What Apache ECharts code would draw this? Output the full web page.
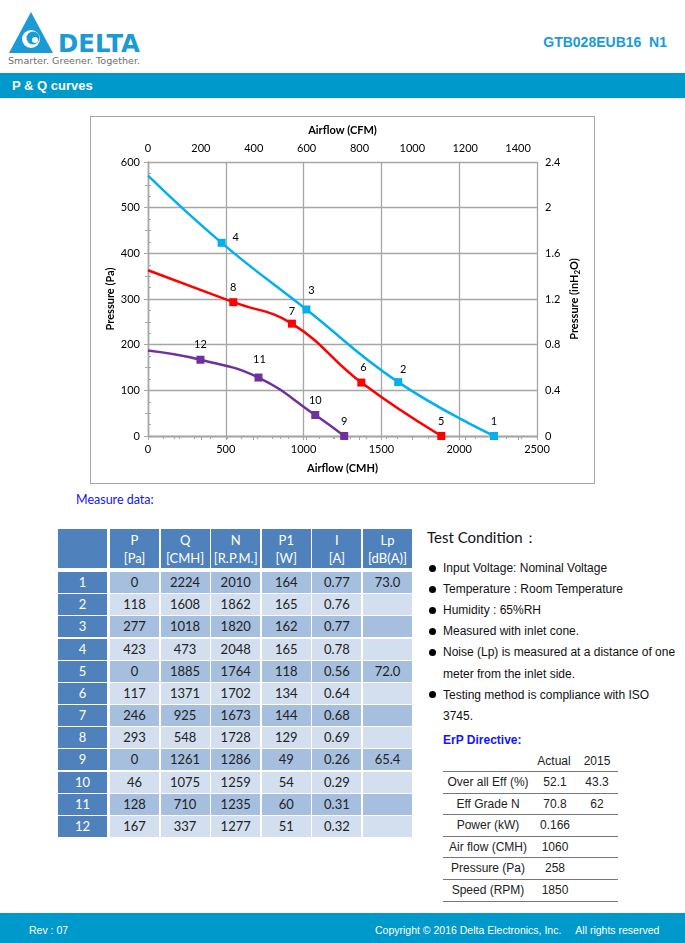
<!DOCTYPE html>
<html><head><meta charset="utf-8">
<script src="https://cdn.jsdelivr.net/npm/echarts@6/dist/echarts.min.js"></script>
<style>
html,body{margin:0;padding:0;background:#fff;}
body{width:685px;height:943px;position:relative;overflow:hidden;font-family:"Liberation Sans",Arial,sans-serif;}
.a{position:absolute;white-space:pre;}
.cell{position:absolute;text-align:center;font-family:Lato,sans-serif;font-size:13px;box-sizing:border-box;}
.bul{position:absolute;width:7px;height:7px;border-radius:50%;background:#000;}
.tc{position:absolute;font-size:12px;color:#111;white-space:pre;line-height:16px;}
.erp{position:absolute;font-size:12px;color:#222;text-align:center;line-height:16px;white-space:pre;}
.erpline{position:absolute;left:443px;width:175px;height:1px;background:#777;}
</style></head><body>

<svg class="a" style="left:0;top:0" width="160" height="70">
  <polygon points="9,53 31,12 53,53" fill="#1A9AD6"/>
  <circle cx="31" cy="39" r="9" fill="#fff"/>
  <circle cx="33" cy="38" r="6.5" fill="#1A9AD6"/>
  <circle cx="35" cy="40" r="3" fill="#fff"/>
  <text x="58" y="52" font-family="DejaVu Sans" font-weight="bold" font-size="25" fill="#1A9AD6" textLength="82" lengthAdjust="spacingAndGlyphs">DELTA</text>
  <text x="8" y="64" font-family="DejaVu Sans" font-size="9" fill="#707070" textLength="132" lengthAdjust="spacingAndGlyphs">Smarter.  Greener.  Together.</text>
</svg>
<div class="a" style="right:18px;top:34px;font-weight:bold;font-size:14px;color:#1B9AD7;line-height:16px;">GTB028EUB16  N1</div>
<div class="a" style="left:0;top:73px;width:685px;height:25px;background:#0099CC;"></div>
<div class="a" style="left:12px;top:78px;font-weight:bold;font-size:13px;color:#fff;line-height:16px;">P &amp; Q curves</div>

<div id="chart" class="a" style="left:90px;top:116px;width:505px;height:368px;border:1px solid #a6a6a6;box-sizing:border-box;"></div>

<div class="a" style="left:76px;top:492px;font-family:Lato,sans-serif;font-size:12.5px;color:#1515F5;line-height:16px;">Measure data:</div>
<div id="table"></div>

<div class="a" style="left:427px;top:528px;font-family:Lato,sans-serif;font-size:15px;color:#111;line-height:18px;">Test Condition：</div>
<div id="cond"></div>
<div class="a" style="left:443px;top:732px;font-weight:bold;font-size:12px;color:#1515F5;line-height:16px;">ErP Directive:</div>
<div id="erp"></div>

<div class="a" style="left:0;top:913px;width:685px;height:30px;background:#0099CC;"></div>
<div class="a" style="left:29px;top:923px;font-size:10.5px;color:#fff;line-height:14px;">Rev : 07</div>
<div class="a" style="left:375px;top:923px;font-size:10.5px;color:#fff;line-height:14px;">Copyright © 2016 Delta Electronics, Inc.     All rights reserved</div>

<script>
// ---- Data ----
const pointIds = [1,2,3,4,5,6,7,8,9,10,11,12];
const tableP  = [0,118,277,423,0,117,246,293,0,46,128,167];
const tableQ  = [2224,1608,1018,473,1885,1371,925,548,1261,1075,710,337];
const tableN  = [2010,1862,1820,2048,1764,1702,1673,1728,1286,1259,1235,1277];
const tableP1 = [164,165,162,165,118,134,144,129,49,54,60,51];
const tableI  = ['0.77','0.76','0.77','0.78','0.56','0.64','0.68','0.69','0.26','0.29','0.31','0.32'];
const tableLp = ['73.0','','','','72.0','','','','65.4','','',''];
const headTop = ['P','Q','N','P1','I','Lp'];
const headBottom = ['[Pa]','[CMH]','[R.P.M.]','[W]','[A]','[dB(A)]'];

const blueIds = [4,3,2,1];
const redIds = [8,7,6,5];
const purpleIds = [12,11,10,9];
const curveStartP = [570, 363, 187]; // curve value at Q = 0 (blue, red, purple)

const cmhTicks = [0,500,1000,1500,2000,2500];
const cfmTickStep = 200;
const paTickStep = 100;
const inTickStep = 0.4;
const CMH_PER_CFM = 1.699;
const PA_PER_INH2O = 250;

const conditions = [
  ['Input Voltage: Nominal Voltage'],
  ['Temperature : Room Temperature'],
  ['Humidity : 65%RH'],
  ['Measured with inlet cone.'],
  ['Noise (Lp) is measured at a distance of one','meter from the inlet side.'],
  ['Testing method is compliance with ISO','3745.']
];
const erpLabels = ['Over all Eff (%)','Eff Grade N','Power (kW)','Air flow (CMH)','Pressure (Pa)','Speed (RPM)'];
const erpActual = ['52.1','70.8','0.166','1060','258','1850'];
const erp2015 = ['43.3','62','','','',''];

// ---- Measure table ----
(function(){
  const t = document.getElementById('table');
  let h = '';
  const colX = i => 110 + i*50.6;
  const headBg = '#4F81BD';
  h += `<div class="cell" style="left:58px;top:529px;width:49px;height:39px;background:${headBg}"></div>`;
  for (let c=0;c<6;c++){
    h += `<div class="cell" style="left:${colX(c)}px;top:529px;width:49px;height:39px;background:${headBg};color:#fff;line-height:18px;padding-top:2px">${headTop[c]}<br>${headBottom[c]}</div>`;
  }
  const cols = [tableP,tableQ,tableN,tableP1,tableI,tableLp];
  for (let r=0;r<12;r++){
    const top = 572 + r*22.17;
    const bg = r%2===0 ? '#A7BFDE' : '#D3DFEE';
    h += `<div class="cell" style="left:58px;top:${top}px;width:49px;height:21px;background:${headBg};color:#fff;line-height:21px">${pointIds[r]}</div>`;
    for (let c=0;c<6;c++){
      h += `<div class="cell" style="left:${colX(c)}px;top:${top}px;width:49px;height:21px;background:${bg};color:#222;line-height:21px">${cols[c][r]}</div>`;
    }
  }
  t.innerHTML = h;
})();

// ---- Test conditions ----
(function(){
  const el = document.getElementById('cond');
  let h = '', line = 0;
  conditions.forEach(item => {
    item.forEach((txt, k) => {
      const cy = 568 + line*21.1;
      if (k===0) h += `<div class="bul" style="left:429px;top:${cy-3.5}px"></div>`;
      h += `<div class="tc" style="left:443px;top:${cy-8}px">${txt}</div>`;
      line++;
    });
  });
  el.innerHTML = h;
})();

// ---- ErP table ----
(function(){
  const el = document.getElementById('erp');
  let h = '';
  h += `<div class="erp" style="left:528px;width:52px;top:753px">Actual</div>`;
  h += `<div class="erp" style="left:577px;width:40px;top:753px">2015</div>`;
  h += `<div class="erpline" style="top:771px"></div>`;
  for (let r=0;r<6;r++){
    const cy = 782 + r*21.6;
    h += `<div class="erp" style="left:443px;width:90px;top:${cy-8}px">${erpLabels[r]}</div>`;
    h += `<div class="erp" style="left:530px;width:50px;top:${cy-8}px">${erpActual[r]}</div>`;
    h += `<div class="erp" style="left:577px;width:40px;top:${cy-8}px">${erp2015[r]}</div>`;
    h += `<div class="erpline" style="top:${Math.round(cy+10.5)}px"></div>`;
  }
  el.innerHTML = h;
})();

// ---- Chart ----
const labelOffsets = {1:[0,-15],2:[5,-13],3:[5,-19],4:[14,-5],5:[0,-15],6:[2,-15],7:[0,-12],8:[0,-15],9:[0,-15],10:[0,-15],11:[1,-18],12:[0,-15]};
const FONT = 'Lato';
const gridColor = '#a6a6a6';

function buildSeries(ids, startP, color){
  const data = [{value:[0,startP], symbol:'none', label:{show:false}}];
  ids.forEach(id => {
    const i = pointIds.indexOf(id);
    data.push({value:[tableQ[i], tableP[i]],
      label:{show:true, formatter:String(id), position:'inside', offset:labelOffsets[id]}});
  });
  return {type:'line', xAxisIndex:0, yAxisIndex:0, smooth:0.45, data,
    symbol:'rect', symbolSize:8, showAllSymbol:true,
    lineStyle:{color, width:2.5}, itemStyle:{color},
    label:{color:'#000', fontSize:11, fontFamily:FONT},
    emphasis:{disabled:true}, animation:false};
}

const isMult = (v, step) => Math.abs(v/step - Math.round(v/step)) < 1e-6;
const axisCommon = {
  axisLine:{show:true, lineStyle:{color:gridColor, width:1.3}},
  axisTick:{show:true, length:4, lineStyle:{color:gridColor, width:1}},
  minorTick:{show:true, length:3, lineStyle:{color:gridColor, width:1}},
  axisLabel:{color:'#000', fontSize:11, fontFamily:FONT, margin:8, formatter:v => String(v)},
  nameTextStyle:{color:'#000', fontSize:11, fontWeight:'bold', fontFamily:FONT},
  nameLocation:'middle',
  nameMoveOverlap:false
};
const cmhMax = cmhTicks[cmhTicks.length-1];
const paMax = 600;

const chart = echarts.init(document.getElementById('chart'), null, {renderer:'canvas'});
chart.setOption({
  animation:false,
  grid:{left:57, top:45, width:389, height:274, containLabel:false},
  xAxis:[
    Object.assign({}, axisCommon, {type:'value', position:'bottom', min:0, max:cmhMax, interval:cmhTicks[1]-cmhTicks[0],
      name:'Airflow (CMH)', nameGap:27,
      minorTick:Object.assign({}, axisCommon.minorTick, {splitNumber:5}),
      splitLine:{show:true, lineStyle:{color:gridColor, width:1.3}}}),
    Object.assign({}, axisCommon, {type:'value', position:'top', min:0, max:cmhMax/CMH_PER_CFM, interval:cfmTickStep,
      name:'Airflow (CFM)', nameGap:26,
      axisTick:Object.assign({}, axisCommon.axisTick, {inside:true}),
      minorTick:Object.assign({}, axisCommon.minorTick, {splitNumber:2}),
      axisLabel:Object.assign({}, axisCommon.axisLabel, {formatter:v => isMult(v,cfmTickStep) ? String(Math.round(v)) : ''}),
      splitLine:{show:false}})
  ],
  yAxis:[
    Object.assign({}, axisCommon, {type:'value', position:'left', min:0, max:paMax, interval:paTickStep,
      name:'Pressure (Pa)', nameGap:32,
      minorTick:Object.assign({}, axisCommon.minorTick, {splitNumber:2}),
      splitLine:{show:true, lineStyle:{color:gridColor, width:1.3}}}),
    Object.assign({}, axisCommon, {type:'value', position:'right', min:0, max:paMax/PA_PER_INH2O, interval:inTickStep,
      name:'Pressure (inH{s|2}O)', nameGap:30,
      nameTextStyle:Object.assign({}, axisCommon.nameTextStyle, {rich:{s:{fontSize:8, fontWeight:'bold', fontFamily:FONT, color:'#000', verticalAlign:'bottom', padding:[6,0,0,0]}}}),
      minorTick:Object.assign({}, axisCommon.minorTick, {splitNumber:4}),
      axisLabel:Object.assign({}, axisCommon.axisLabel, {formatter:v => isMult(v,inTickStep) ? String(+v.toFixed(1)) : ''}),
      splitLine:{show:false}})
  ],
  series:[
    buildSeries(blueIds, curveStartP[0], '#00B0F0'),
    buildSeries(redIds, curveStartP[1], '#FF0000'),
    buildSeries(purpleIds, curveStartP[2], '#7030A0')
  ]
});
</script>
</body></html>
